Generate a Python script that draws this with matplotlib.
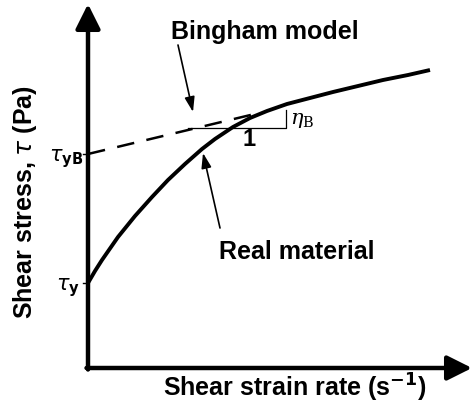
import numpy as np
import matplotlib.pyplot as plt

# schematic data (arbitrary units, origin at the axes corner)
real_x = [0, 7, 14, 30, 47, 64, 80, 97, 114, 127, 145, 162, 179, 199, 222, 245, 270, 295, 320, 342]
real_y = [85, 97, 108, 131, 152, 171, 188, 204, 219, 229, 241, 250, 257, 264, 270, 276, 282, 288, 293, 298]
bingham_x = [0, 175]
bingham_y = [214, 256]
tau_y = 85
tau_yB = 214
tri_x = [100, 198, 198]
tri_y = [240, 240, 258]

plt.rcParams['font.family'] = ['Liberation Sans', 'DejaVu Sans']

fig = plt.figure(figsize=(4.72, 4.05), dpi=100)
ax = fig.add_axes([0, 0, 1, 1])
ax.set_xlim(-88, 384)
ax.set_ylim(-37, 368)
ax.axis('off')

# axes with arrow heads
head = '-|>,head_length=1.5,head_width=0.75'
ax.annotate('', xy=(384, 0), xytext=(-1.5, 0),
            arrowprops=dict(arrowstyle=head, lw=3.2, color='black', shrinkA=0, shrinkB=0))
ax.annotate('', xy=(0, 364), xytext=(0, -1.5),
            arrowprops=dict(arrowstyle=head, lw=3.2, color='black', shrinkA=0, shrinkB=0))

# curves
ax.plot(real_x, real_y, color='black', lw=2.8, solid_capstyle='butt', solid_joinstyle='round')
ax.plot(bingham_x, bingham_y, color='black', lw=1.8, dashes=(7, 5))
ax.plot(tri_x, tri_y, color='black', lw=0.9)

# ticks
ax.plot([-5, 0], [tau_y, tau_y], color='black', lw=1)
ax.plot([-5, 0], [tau_yB, tau_yB], color='black', lw=1)
ax.text(-8, tau_y - 5, r'$\tau_{\mathbf{y}}$', ha='right', va='center', fontsize=15)
ax.text(-5, tau_yB - 5, r'$\tau_{\mathbf{yB}}$', ha='right', va='center', fontsize=15)

# slope triangle labels
ax.text(161, 228, '1', ha='center', va='center', fontsize=17, fontweight='bold')
ax.text(202, 248, r'$\eta_{\mathrm{B}}$', ha='left', va='center', fontsize=15,
        math_fontfamily='dejavuserif')

# annotations
ax.text(177, 336, 'Bingham model', ha='center', va='center', fontsize=18, fontweight='bold')
ax.annotate('', xy=(105, 256), xytext=(90, 323),
            arrowprops=dict(arrowstyle='-|>,head_length=0.9,head_width=0.3',
                            lw=1.2, color='black', shrinkA=0, shrinkB=0))
ax.text(209, 116, 'Real material', ha='center', va='center', fontsize=18, fontweight='bold')
ax.annotate('', xy=(115, 215), xytext=(132, 140),
            arrowprops=dict(arrowstyle='-|>,head_length=0.9,head_width=0.3',
                            lw=1.2, color='black', shrinkA=0, shrinkB=0))

# axis labels
ax.text(207, -20, r'Shear strain rate (s$^{\mathbf{-1}}$)', ha='center', va='center',
        fontsize=18, fontweight='bold')
ax.text(-63, 166, r'Shear stress, $\tau$ (Pa)', ha='center', va='center',
        fontsize=18, fontweight='bold', rotation=90)

fig.savefig('out.png', dpi=100)
